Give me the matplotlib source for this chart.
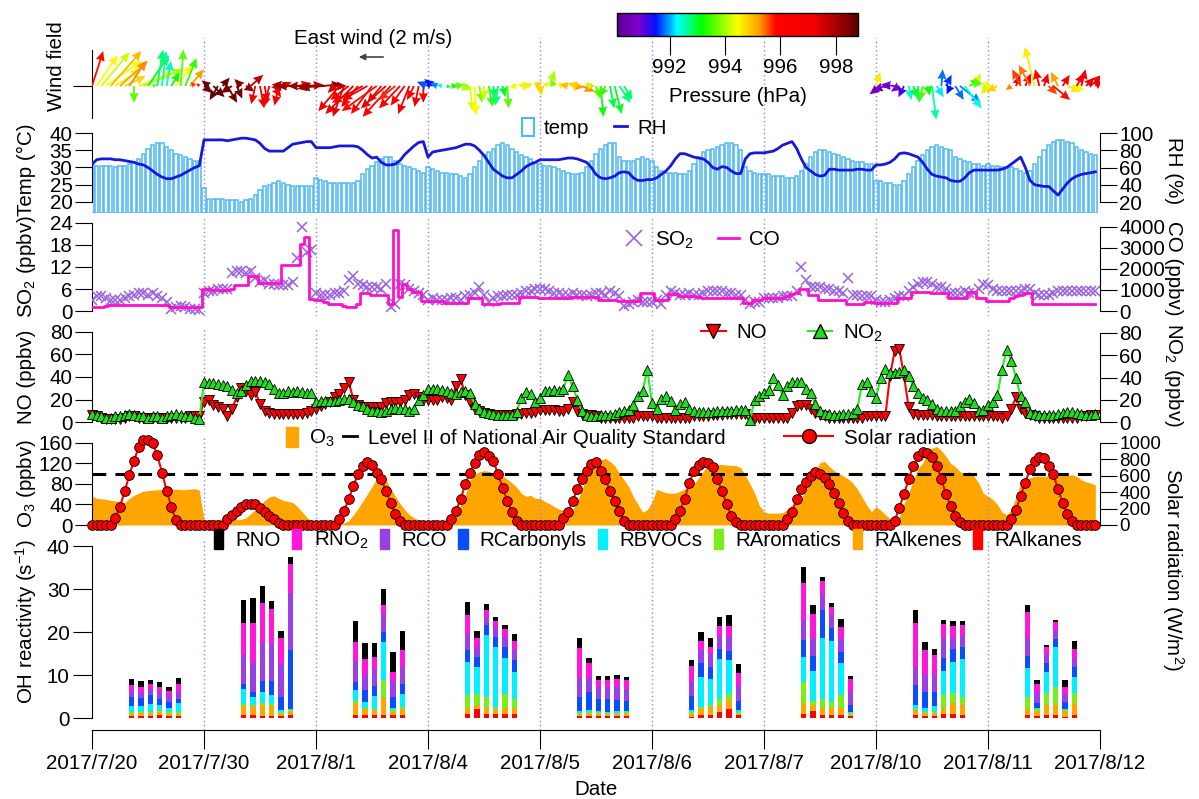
import numpy as np
import matplotlib
matplotlib.use("Agg")
import matplotlib.pyplot as plt
from matplotlib.colors import LinearSegmentedColormap, Normalize
from matplotlib.cm import ScalarMappable
from matplotlib.lines import Line2D
from matplotlib.patches import Patch

plt.rcParams['font.family'] = ['Liberation Sans', 'DejaVu Sans']
plt.rcParams['mathtext.fontset'] = 'custom'
plt.rcParams['mathtext.rm'] = 'Liberation Sans'
plt.rcParams['mathtext.it'] = 'Liberation Sans:italic'

nan = np.nan

# ---------------- data (hourly, one line per day) ----------------
date_labels = ['2017/7/20', '2017/7/30', '2017/8/1', '2017/8/4', '2017/8/5',
               '2017/8/6', '2017/8/7', '2017/8/10', '2017/8/11', '2017/8/12']

temp = [
    31, 30.5, 30.5, 30.5, 30.5, 30, 30.5, 30.5, 31, 31.5, 32.5, 34, 35.5, 36.5, 37, 37, 36, 35, 34, 33.5, 33, 32.5, 32, 32,
    24, 21, 21, 21, 21, 20.5, 20.5, 20.5, 20, 20.5, 21, 22, 23.5, 24.5, 25, 25.5, 26, 25.5, 25, 24.5, 24.5, 24.5, 24.5, 24.5,
    27, 26.5, 26, 25.5, 25.5, 25.5, 25.5, 25.5, 25.5, 26, 28, 29.5, 30.5, 31.5, 32.5, 33, 33, 32, 31, 30.5, 30, 29.5, 29, 28.5,
    30, 29.5, 29, 28.5, 28.5, 28, 28, 27.5, 27, 28, 30, 32, 33.5, 34.5, 35.5, 36.5, 37, 36.5, 35.5, 34.5, 33.5, 33, 32.5, 31.5,
    31, 30.5, 30.5, 30, 29.5, 29, 28.5, 28, 28, 28.5, 30, 32, 34, 35.5, 36.5, 37, 37, 33, 32, 32, 32, 32.5, 33, 32.5,
    32, 30, 29, 28.5, 28.5, 28.5, 28, 28, 29, 31, 33, 34.5, 35, 35.5, 36, 36.5, 37, 37, 36.5, 35, 30, 29, 28.5, 28,
    28, 28, 27.5, 27.5, 27.5, 27, 27, 27.5, 29, 31, 33, 34.5, 35, 35, 34.5, 34, 33.5, 33, 32.5, 32, 31.5, 31.5, 31, 31,
    26, 26, 25.5, 25.5, 25, 25, 26, 28, 30, 32, 33.5, 35, 36, 36.5, 36, 35.5, 35, 33, 32.5, 32, 31.5, 31, 31, 30.5,
    31, 30.5, 30.5, 30, 30, 30, 29.5, 29, 28.5, 29, 31, 33, 35, 36.5, 37.5, 38, 38, 37.5, 37, 36, 35, 34.5, 34, 33.5,
]
rh = [
    64, 69, 70, 70, 70, 69, 69, 68, 67, 66, 64, 63, 60, 56, 52, 49, 47, 47, 49, 51, 54, 57, 60, 62,
    92, 92, 92, 92, 92, 91, 92, 93, 94, 94, 93, 92, 88, 82, 79, 79, 79, 79, 83, 87, 88, 89, 90, 90,
    83, 83, 83, 83, 84, 85, 85, 85, 85, 84, 80, 75, 71, 72, 66, 63, 63, 64, 68, 75, 80, 85, 89, 90,
    72, 78, 79, 80, 81, 82, 83, 85, 87, 87, 85, 80, 74, 66, 58, 54, 50, 48, 48, 52, 56, 61, 64, 66,
    69, 69, 69, 69, 69, 70, 71, 71, 70, 68, 66, 60, 52, 48, 47, 48, 50, 54, 55, 54, 48, 45, 45, 46,
    46, 48, 52, 56, 62, 70, 76, 76, 74, 72, 71, 70, 66, 60, 58, 61, 60, 56, 53, 53, 70, 76, 77, 77,
    77, 78, 79, 82, 86, 88, 90, 82, 70, 60, 56, 52, 50, 51, 58, 58, 57, 57, 57, 57, 58, 58, 57, 57,
    63, 63, 64, 66, 70, 76, 77, 76, 74, 72, 66, 58, 52, 50, 49, 48, 45, 44, 44, 48, 54, 57, 57, 57,
    57, 57, 57, 58, 60, 64, 68, 72, 60, 45, 40, 39, 38, 38, 33, 28, 35, 42, 47, 50, 52, 53, 54, 55,
]
so2 = [
    3, 4, 4, 3.5, 3, 3, 3, 3.5, 4, 4.5, 5, 5, 4.5, 5, 4, 3.5, 2.5, 0.5, 1, 1.5, 1, 0.5, 0.5, 0.3,
    5, 5.5, 5.5, 6, 6, 6, 10.5, 11, 11, 10.5, 11, 9, 8, 8.5, 7.5, 7.5, 7, 7, 7, 8, 14.5, 23, 16, 16.5,
    5, 4.5, 4.5, 4.5, 5, 5, 5.5, 8.5, 9.5, 7.5, 7, 6.5, 6.5, 6.5, 6, 7.5, 1, 2, 7.5, 7, 6, 5.5, 5, 4.5,
    3, 3.5, 3, 3, 3, 3.5, 3.5, 3, 4, 4.5, 5, 6.5, 4.5, 2.5, 3.5, 4, 4, 4.5, 4.5, 4.5, 5, 5.5, 5.5, 6,
    6, 6, 5.5, 5, 5, 4.5, 4.5, 5, 4.5, 4.5, 4, 4.5, 5, 5, 4.5, 5.5, 5, 4, 1.5, 2, 2.5, 3, 2.5, 2.5,
    2.5, 3, 2, 4.5, 5.5, 5, 4.5, 4.5, 5, 4.5, 4.5, 5, 5.5, 5.5, 5.5, 5.5, 5, 5, 4.5, 4.5, 3, 2, 2.5, 2.5,
    3.5, 3.5, 3.5, 3.5, 4, 4, 4, 5.5, 12, 8.5, 6.5, 6.5, 6.5, 6, 6, 5.5, 5.5, 5, 9, 4.5, 4.5, 4, 4, 4,
    3, 2.5, 2.5, 3, 3.5, 4, 4, 5.5, 6.5, 7.5, 8, 8, 7.5, 6.5, 6.5, 6, 5, 5, 5, 5.5, 5, 5, 6, 7.5,
    7, 6, 5.5, 5.5, 5.5, 5.5, 5.5, 5.5, 6, 6, 5, 4.5, 4.5, 4.5, 5, 5.5, 5.5, 5.5, 5.5, 5.5, 5.5, 5.5, 5.5, 5.5,
]
co = [
    170, 180, 200, 250, 270, 270, 270, 270, 280, 280, 280, 280, 280, 280, 280, 280, 270, 200, 200, 180, 180, 180, 180, 180,
    1070, 1070, 1000, 1000, 1000, 1000, 1050, 1250, 1250, 1250, 1650, 1650, 1350, 1350, 1350, 1350, 1350, 2170, 2170, 2170, 2170, 3170, 3500, 550,
    540, 540, 450, 320, 320, 320, 250, 200, 200, 320, 870, 870, 770, 770, 770, 770, 320, 3850, 690, 1280, 1060, 900, 900, 470,
    470, 470, 470, 470, 400, 400, 400, 400, 400, 620, 620, 620, 350, 350, 350, 350, 400, 400, 400, 400, 690, 690, 690, 690,
    620, 620, 620, 620, 620, 620, 620, 690, 690, 690, 690, 690, 690, 540, 540, 540, 540, 470, 470, 470, 470, 470, 850, 850,
    850, 540, 540, 540, 800, 800, 700, 700, 700, 700, 690, 620, 620, 620, 620, 620, 620, 620, 620, 620, 400, 400, 540, 540,
    620, 620, 620, 620, 620, 700, 800, 860, 1040, 1040, 770, 770, 540, 540, 540, 540, 540, 540, 350, 350, 350, 350, 450, 450,
    400, 400, 400, 400, 400, 620, 620, 620, 900, 900, 900, 900, 850, 850, 850, 850, 620, 620, 620, 620, 900, 900, 620, 620,
    470, 470, 470, 470, 470, 620, 700, 770, 860, 860, 350, 350, 350, 350, 350, 350, 350, 350, 350, 350, 350, 350, 350, 350,
]
no = [
    6, 5, 4, 3, 3, 3, 3, 4, 5, 5, 4, 4, 4, 4, 4, 4, 4, 4, 4, 4, 4, 5, 5, 5,
    18, 20, 15, 13, 12, 5, 12, 22, 30, 28, 24, 27, 16, 10, 8, 7, 7, 7, 7, 7, 7, 7, 8, 10,
    12, 14, 16, 18, 22, 25, 30, 36, 20, 15, 13, 13, 13, 13, 13, 17, 18, 18, 18, 20, 24, 25, 22, 20,
    20, 20, 20, 22, 21, 20, 32, 38, 24, 18, 12, 10, 8, 7, 6, 6, 6, 6, 6, 7, 7, 8, 8, 9,
    11, 11, 11, 11, 10, 10, 12, 18, 10, 7, 6, 6, 5, 4, 4, 4, 4, 4, 4, 4, 4, 5, 5, 5,
    5, 4, 4, 4, 4, 4, 4, 4, 4, 5, 5, 5, 5, 6, 6, 6, 7, 7, 7, 7, 7, 3, 4, 4,
    4, 4, 4, 4, 4, 4, 8, 14, 15, 15, 12, 8, 6, 5, 4, 4, 4, 4, 4, 4, 4, 4, 5, 5,
    5, 5, 5, 41, 63, 65, 41, 13, 7, 6, 6, 6, 6, 5, 5, 5, 5, 5, 5, 5, 5, 5, 5, 5,
    5, 5, 5, 4, 5, 12, 22, 12, 8, 6, 5, 4, 4, 4, 4, 4, 4, 4, 4, 4, 5, 5, 6, 6,
]
no2 = [
    7, 6, 5, 4, 4, 5, 5, 6, 7, 6, 5, 5, 4, 5, 5, 4, 5, 6, 7, 6, 5, 5, 4, 3,
    36, 35, 35, 34, 33, 32, 29, 26, 28, 33, 37, 37, 37, 36, 34, 30, 26, 26, 28, 27, 28, 27, 26, 26,
    18, 19, 19, 19, 19, 20, 21, 21, 18, 15, 14, 12, 10, 10, 9, 10, 12, 13, 12, 12, 10, 12, 20, 24,
    30, 30, 30, 29, 28, 26, 25, 27, 28, 26, 16, 12, 9, 8, 7, 6, 6, 6, 6, 9, 22, 27, 25, 18,
    22, 28, 28, 29, 28, 30, 42, 32, 20, 10, 6, 5, 5, 6, 6, 6, 7, 9, 10, 11, 15, 23, 28, 47,
    17, 12, 21, 23, 19, 11, 16, 18, 12, 10, 9, 9, 9, 9, 10, 10, 10, 10, 11, 11, 11, 2, 20, 23,
    26, 29, 40, 33, 24, 32, 36, 36, 36, 30, 26, 16, 10, 7, 7, 6, 6, 7, 7, 8, 12, 34, 36, 28,
    22, 40, 48, 44, 44, 45, 47, 41, 32, 26, 22, 20, 16, 12, 10, 10, 10, 10, 14, 18, 21, 17, 10, 11,
    15, 18, 24, 47, 65, 55, 40, 23, 18, 8, 7, 6, 6, 6, 6, 7, 8, 9, 9, 8, 7, 6, 6, 7,
]
o3 = [
    56, 52, 51, 50, 48, 47, 46, 44, 52, 58, 62, 66, 67, 68, 69, 69, 70, 70, 70, 69, 69, 70, 71, 68,
    10, 10, 10, 10, 10, 11, 11, 11, 11, 14, 22, 30, 39, 48, 55, 57, 52, 48, 46, 44, 36, 26, 15, 8,
    3, 3, 3, 3, 3, 3, 4, 8, 20, 32, 46, 60, 75, 90, 92, 88, 72, 56, 42, 30, 20, 14, 10, 6,
    3, 3, 3, 3, 3, 5, 16, 40, 60, 88, 98, 104, 106, 105, 101, 99, 96, 89, 82, 74, 62, 56, 58, 52,
    52, 46, 42, 36, 31, 29, 29, 30, 45, 70, 92, 114, 125, 127, 130, 124, 116, 101, 88, 75, 55, 40, 25, 30,
    45, 70, 66, 63, 62, 62, 66, 70, 72, 80, 92, 105, 116, 118, 118, 118, 117, 116, 116, 112, 96, 80, 62, 38,
    26, 23, 23, 23, 24, 30, 39, 46, 52, 70, 88, 105, 122, 124, 114, 106, 101, 96, 90, 82, 70, 55, 39, 26,
    36, 29, 20, 13, 7, 16, 42, 62, 88, 110, 121, 141, 150, 153, 145, 134, 120, 114, 104, 101, 104, 95, 82, 62,
    56, 50, 40, 25, 20, 30, 55, 82, 89, 92, 95, 95, 95, 96, 96, 96, 97, 97, 98, 95, 88, 84, 82, 78,
]
solar = [
    0, 0, 0, 0, 0, 80, 225, 410, 610, 785, 945, 1040, 1040, 1000, 850, 640, 420, 220, 60, 0, 0, 0, 0, 0,
    0, 0, 0, 0, 0, 70, 118, 171, 224, 253, 261, 253, 212, 159, 110, 69, 29, 0, 0, 0, 0, 0, 0, 0,
    0, 0, 0, 0, 0, 70, 171, 314, 477, 620, 722, 763, 730, 640, 559, 416, 273, 130, 49, 0, 0, 0, 0, 0,
    0, 0, 0, 0, 0, 70, 171, 314, 500, 640, 755, 850, 885, 845, 783, 620, 457, 294, 159, 49, 0, 0, 0, 0,
    0, 0, 0, 0, 0, 82, 159, 294, 437, 559, 661, 742, 771, 661, 559, 416, 294, 171, 49, 0, 0, 0, 0, 0,
    0, 0, 0, 0, 0, 78, 171, 314, 518, 661, 735, 763, 755, 702, 559, 416, 253, 110, 37, 0, 0, 0, 0, 0,
    0, 0, 0, 0, 0, 70, 159, 314, 437, 530, 600, 641, 620, 567, 498, 396, 273, 151, 49, 0, 0, 0, 0, 0,
    0, 0, 0, 0, 49, 212, 375, 559, 722, 836, 885, 877, 824, 722, 559, 375, 232, 110, 37, 0, 0, 0, 0, 0,
    0, 0, 0, 0, 0, 70, 184, 355, 518, 681, 783, 824, 812, 722, 620, 437, 273, 130, 49, 0, 0, 0, 0, 0,
]

# wind components (m/s) and pressure (hPa); nan = no data
wind_u = [
    0.8, 1.5, 2.0, 2.5, 2.2, 1.8, 2.0, 1.5, 1.2, 0.0, 2.5, 2.8, 1.5, 0.3, 0.4, 0.3, 0.3, 0.6, 1.2, 0.2, 0.8, 1.0, -0.3, -0.2,
    0.6, -0.5, 0.8, -0.6, 0.5, 0.7, -0.8, 0.4, -0.5, 0.6, 0.9, -0.3, 0.3, 0.2, -0.4, 0.5, -0.3, 0.6, -1.2, -1.5, 1.0, -1.8, 1.2, -1.0,
    -2.0, 1.5, -1.8, 1.2, -0.5, -1.5, -0.8, -1.3, -2.0, -1.2, -2.2, -1.8, -1.5, -2.5, -1.0, -1.8, -2.0, -1.2, -1.5, -1.0, -0.8, -0.5, -0.3, 0.0,
    -0.8, -0.6, -0.5, -0.4, 0.3, 0.5, 0.6, 0.8, 0.4, 0.2, 0.1, 0.2, 0.0, 0.3, 0.1, -0.2, 0.2, 0.1, 0.3, -0.5, 0.8, -0.6, -0.4, 0.5,
    0.1, 0.3, 0.4, -0.2, 0.5, 0.3, -0.6, 0.8, -0.7, 0.9, 0.6, -0.5, 0.3, 0.2, -0.4, 0.3, 0.5, 0.8, 0.6, nan, nan, nan, nan, nan,
    nan, nan, nan, nan, nan, nan, nan, nan, nan, nan, nan, nan, nan, nan, nan, nan, nan, nan, nan, nan, nan, nan, nan, nan,
    nan, nan, nan, nan, nan, nan, nan, nan, nan, nan, nan, nan, nan, nan, nan, nan, nan, nan, nan, nan, nan, nan, nan, nan,
    0.3, -0.8, -0.9, -0.5, -1.0, -0.6, -0.4, 0.2, 0.3, 0.1, -0.2, 0.2, 0.3, 0.5, 0.1, 0.4, -0.3, 0.6, 1.5, 1.2, 0.8, 0.5, -0.3, 0.4,
    -0.5, -0.6, -0.8, nan, nan, -0.4, 0.3, -0.6, 0.4, -0.8, -0.7, -0.3, 0.3, 0.6, 1.2, -0.5, 0.5, 1.0, 0.9, 0.5, 0.3, 0.6, 0.8, 0.5,
]
wind_v = [
    2.5, 2.2, 2.4, 1.8, 2.5, 1.2, 1.8, 0.7, 1.8, -1.2, 1.0, 1.2, 2.2, 0.1, 2.6, 2.5, 1.8, 1.0, 1.5, 2.6, 2.0, 1.2, 0.3, 0.2,
    -0.5, 0.4, -0.8, -1.0, 0.6, -1.2, -0.5, -0.9, 0.5, -0.4, 0.8, -1.3, -1.6, -1.2, -1.5, -0.8, -1.4, 0.3, -0.1, 0.1, 0.2, 0.0, 0.1, -0.2,
    0.0, 0.1, -0.1, 0.0, -0.5, -1.8, -2.2, -1.0, -2.0, -1.5, -1.2, -1.0, -2.0, -1.8, -1.2, -1.6, -2.2, -1.0, -1.6, -1.4, -2.0, -1.0, -1.5, -1.2,
    0.3, 0.5, 0.2, 0.1, -0.1, 0.0, 0.1, -0.2, -0.3, -1.8, -2.1, -1.2, -1.0, -1.5, -0.9, -1.4, -0.8, -1.6, -0.2, 0.0, 0.1, 0.1, 0.2, 0.3,
    -0.7, 0.3, 1.1, 0.5, 0.2, 0.2, 0.1, -0.1, 0.2, -0.4, 0.0, 0.1, -0.9, -2.2, -0.8, -1.6, -2.0, -1.2, -1.0, nan, nan, nan, nan, nan,
    nan, nan, nan, nan, nan, nan, nan, nan, nan, nan, nan, nan, nan, nan, nan, nan, nan, nan, nan, nan, nan, nan, nan, nan,
    nan, nan, nan, nan, nan, nan, nan, nan, nan, nan, nan, nan, nan, nan, nan, nan, nan, nan, nan, nan, nan, nan, nan, nan,
    1.0, -0.6, -0.3, -0.1, 0.1, -0.4, -0.8, -1.0, -0.9, -1.2, -1.1, -0.7, -2.4, -0.8, 1.2, 0.8, -0.6, -1.0, -1.2, -1.6, 0.5, 0.9, 0.6, 0.4,
    -0.6, -0.5, -0.4, nan, nan, -0.3, 0.8, 1.2, 0.9, 1.5, 2.8, 1.2, 0.9, -0.6, -1.0, 1.0, 0.8, -0.4, -0.3, 0.9, 1.2, 0.6, 0.8, 0.4,
]
pressure = [
    995.8, 994.5, 994.2, 994.5, 995.0, 994.3, 995.2, 994.8, 995.3, 993.6, 994.6, 994.0, 993.0, 993.5, 992.8, 992.6, 992.5, 993.2, 994.4, 993.6, 993.4, 995.2, 995.6, 996.0,
    998.6, 998.7, 998.8, 998.8, 998.7, 998.6, 998.5, 998.6, 998.4, 998.3, 997.8, 997.2, 997.0, 996.9, 997.1, 997.0, 996.8, 996.2, 997.6, 998.0, 997.3, 998.2, 997.8, 998.0,
    998.3, 998.4, 998.3, 998.0, 997.5, 997.0, 997.3, 996.8, 997.2, 996.6, 996.9, 996.4, 996.0, 995.8, 996.5, 997.0, 996.3, 995.7, 996.2, 996.9, 996.5, 996.2, 997.0, 996.5,
    991.7, 991.5, 991.9, 992.3, 993.0, 993.3, 993.6, 994.0, 994.0, 994.3, 994.5, 993.8, 994.2, 993.4, 992.8, 992.7, 993.0, 993.6, 994.2, 994.4, 994.6, 994.3, 994.6, 994.8,
    994.8, 994.3, 994.0, 993.8, 994.5, 994.4, 995.0, 995.2, 994.8, 995.3, 995.0, 994.2, 993.6, 993.2, 993.4, 992.9, 993.0, 992.7, 992.8, nan, nan, nan, nan, nan,
    nan, nan, nan, nan, nan, nan, nan, nan, nan, nan, nan, nan, nan, nan, nan, nan, nan, nan, nan, nan, nan, nan, nan, nan,
    nan, nan, nan, nan, nan, nan, nan, nan, nan, nan, nan, nan, nan, nan, nan, nan, nan, nan, nan, nan, nan, nan, nan, nan,
    994.6, 990.6, 990.7, 990.8, 991.0, 990.9, 991.2, 992.5, 993.0, 992.8, 993.5, 993.2, 992.6, 992.2, 991.8, 991.6, 991.5, 991.8, 991.9, 992.4, 993.4, 994.2, 993.6, 994.4,
    994.2, 994.5, 994.8, nan, nan, 995.3, 996.0, 995.6, 996.2, 995.4, 994.6, 996.3, 996.5, 995.6, 995.8, 995.2, 996.0, 994.7, 994.5, 996.4, 996.8, 997.2, 996.5, 997.0,
]

# OH reactivity (s-1): six samples per day
oh_hours = [8.5, 10.5, 12.5, 14.5, 16.5, 18.5]
oh_labels = ['RNO', 'RNO$_2$', 'RCO', 'RCarbonyls', 'RBVOCs', 'RAromatics', 'RAlkenes', 'RAlkanes']
r_alkanes = [0.5, 0.5, 0.5, 0.6, 0.4, 0.5,  0.6, 0.6, 0.5, 0.5, 0.5, 0.6,  0.6, 0.6, 0.6, 0.6, 0.6, 0.6,
             1.0, 2.0, 1.0, 1.0, 1.0, 1.0,  0.4, 0.4, 0.4, 0.4, 0.4, 0.4,  0.3, 0.8, 0.8, 1.4, 2.2, 0.6,
             1.0, 1.6, 0.6, 0.6, 0.6, 0.4,  0.8, 0.5, 0.5, 1.0, 1.0, 0.6,  0.8, 0.4, 0.8, 0.8, 0.3, 0.8]
r_alkenes = [0.5, 0.6, 0.7, 0.9, 0.6, 0.5,  2.2, 2.2, 2.5, 2.3, 0.5, 0.8,  3.0, 1.4, 1.2, 4.1, 0.9, 1.6,
             1.3, 1.0, 1.3, 1.2, 1.3, 1.3,  0.4, 0.5, 0.5, 0.4, 0.5, 0.5,  0.7, 1.4, 1.8, 1.6, 1.9, 0.4,
             2.6, 1.4, 1.7, 1.7, 1.7, 0.4,  1.0, 0.6, 0.6, 1.3, 2.6, 2.4,  1.4, 1.3, 2.2, 2.2, 1.3, 2.8]
r_aromatics = [0.3, 0.3, 0.3, 0.3, 0.3, 0.3,  0.4, 0.3, 0.4, 0.4, 0.4, 0.4,  0.3, 0.3, 0.4, 4.1, 0.3, 0.4,
               3.0, 2.5, 2.6, 0.4, 3.2, 2.2,  0.4, 0.4, 0.4, 0.3, 0.3, 0.4,  0.4, 0.4, 0.4, 1.4, 1.4, 0.4,
               4.7, 0.9, 2.2, 1.4, 3.0, 0.3,  0.4, 0.3, 0.4, 3.0, 2.2, 1.9,  2.7, 0.3, 2.8, 4.1, 0.2, 2.2]
r_bvocs = [1.4, 1.5, 1.7, 1.2, 1.1, 2.2,  3.6, 1.8, 2.7, 2.1, 0.4, 0.4,  2.6, 1.4, 2.9, 8.8, 0.5, 2.9,
           7.8, 6.4, 14.4, 14.0, 8.4, 6.3,  0.4, 0.5, 0.4, 0.3, 0.4, 0.3,  0.4, 7.0, 6.0, 9.3, 8.0, 0.4,
           5.8, 7.0, 14.1, 14.2, 7.6, 0.3,  0.9, 1.0, 1.2, 5.6, 7.3, 8.8,  6.8, 0.3, 5.0, 9.3, 0.4, 3.8]
r_carbonyls = [2.1, 1.7, 2.1, 1.5, 1.3, 1.0,  1.1, 1.2, 2.5, 3.3, 3.1, 13.7,  1.9, 2.8, 2.4, 2.5, 2.6, 2.5,
               2.7, 2.4, 2.4, 2.3, 2.7, 2.7,  3.3, 4.3, 2.8, 3.1, 2.5, 2.4,  3.3, 3.3, 2.9, 2.4, 2.1, 2.2,
               4.1, 3.6, 6.6, 3.0, 2.5, 1.7,  4.5, 3.7, 3.3, 3.0, 3.0, 2.7,  2.8, 1.2, 2.1, 2.0, 1.5, 2.2]
r_co = [1.4, 1.5, 1.4, 1.5, 1.6, 1.6,  6.8, 6.8, 8.8, 8.6, 7.6, 13.1,  4.9, 3.6, 4.0, 4.1, 3.7, 3.9,
        3.5, 2.1, 1.9, 2.3, 2.3, 2.3,  4.5, 3.1, 2.8, 2.8, 3.2, 2.7,  3.5, 2.9, 2.9, 2.8, 3.3, 3.4,
        4.5, 4.1, 3.5, 3.0, 3.0, 3.0,  4.3, 3.8, 4.1, 4.7, 2.6, 2.6,  4.1, 2.3, 1.8, 2.1, 1.8, 2.1]
r_no2 = [1.5, 1.2, 1.2, 1.2, 0.9, 1.9,  7.4, 9.3, 9.3, 8.2, 6.2, 6.8,  4.3, 3.6, 2.8, 2.0, 2.2, 3.9,
         4.6, 2.2, 1.6, 1.4, 1.8, 2.1,  6.8, 3.7, 1.6, 1.5, 1.7, 2.1,  3.5, 2.1, 1.8, 2.5, 2.5, 3.1,
         8.6, 5.6, 3.1, 1.9, 2.7, 2.9,  10.3, 6.0, 4.6, 3.2, 2.8, 2.7,  6.0, 2.2, 1.7, 1.8, 1.8, 2.2]
r_no = [1.3, 1.3, 0.9, 1.1, 1.0, 1.2,  5.3, 5.6, 3.9, 1.9, 1.6, 1.7,  4.9, 3.7, 3.1, 3.8, 4.5, 4.5,
        3.1, 1.7, 1.3, 0.9, 1.0, 1.6,  2.5, 1.0, 0.9, 1.0, 1.1, 0.8,  1.5, 2.0, 2.0, 2.2, 2.5, 2.0,
        3.8, 2.0, 0.9, 0.9, 1.9, 0.8,  3.0, 1.7, 1.4, 0.9, 1.0, 0.8,  1.6, 0.8, 0.6, 0.5, 1.5, 1.8]

# ---------------- figure ----------------
W, H = 1199, 799
fig = plt.figure(figsize=(W / 100, H / 100), dpi=100)
FS = 14.8

temp_c = '#4fb9f3'
rh_c = '#1818d8'
so2_c = '#9a62dc'
co_c = '#ff10cc'
no_c = '#ff0000'
no2_c = '#22ee22'
o3_c = '#ffa500'
day_c = '#8585ff'
oh_colors = ['#000000', '#ff18d8', '#9a3ee6', '#0a4cff', '#00f0ff', '#7cec1c', '#ffa500', '#ff0000']

n_days = len(date_labels) - 1
xmax = 24 * n_days
hours = np.arange(xmax)


def add_panel(top, bottom):
    ax = fig.add_axes([92 / W, 1 - bottom / H, 1008 / W, (bottom - top) / H])
    ax.set_xlim(0, xmax)
    ax.patch.set_visible(False)
    return ax


def style_left(ax, lo, hi, ticks):
    for s in ['top', 'right', 'bottom']:
        ax.spines[s].set_visible(False)
    ax.spines['left'].set_bounds(lo, hi)
    ax.set_yticks(ticks)
    ax.tick_params(axis='x', bottom=False, labelbottom=False)
    ax.tick_params(axis='y', direction='out', length=12, labelsize=FS, pad=2)


def style_right(ax, lo, hi, ticks, size=FS):
    for s in ['top', 'left', 'bottom']:
        ax.spines[s].set_visible(False)
    ax.spines['right'].set_bounds(lo, hi)
    ax.set_yticks(ticks)
    ax.tick_params(axis='y', direction='out', length=12, labelsize=size, pad=2)


def day_lines(ax):
    for d in range(1, n_days):
        ax.axvline(24 * d, color=day_c, ls=(0, (1, 2)), lw=1, zorder=2.5)


# pressure colour scale
cmap = LinearSegmentedColormap.from_list('press', [
    (0.0, '#5c0090'), (0.09, '#8000d0'), (0.16, '#0010ff'), (0.25, '#00ffff'),
    (0.35, '#00ff00'), (0.5, '#ffff00'), (0.59, '#ffa000'), (0.66, '#ff0000'),
    (0.82, '#f00000'), (1.0, '#600000')])
norm = Normalize(990.1, 998.8)

# ---- wind field ----
ax_w = add_panel(38, 126)
ax_w.set_ylim(-40, 48)
for s in ['top', 'right', 'bottom']:
    ax_w.spines[s].set_visible(False)
ax_w.spines['left'].set_bounds(-32, 36)
ax_w.set_yticks([0])
ax_w.set_yticklabels([''])
ax_w.tick_params(axis='y', direction='out', length=14)
ax_w.tick_params(axis='x', bottom=False, labelbottom=False)
day_lines(ax_w)
u = np.array(wind_u)
v = np.array(wind_v)
p = np.array(pressure)
ok = ~np.isnan(u)
ax_w.quiver(hours[ok], np.zeros(ok.sum()), u[ok], v[ok], p[ok], cmap=cmap, norm=norm,
            angles='uv', scale_units='dots', scale=1 / 14, width=0.0018,
            headwidth=5, headlength=5.5, headaxislength=5, zorder=3)
fig.text(57 / W, 1 - 66 / H, 'Wind field', rotation=90, ha='center', va='center', fontsize=FS)
fig.text(373 / W, 1 - 38 / H, 'East wind (2 m/s)', ha='center', va='center', fontsize=FS)
ax_w.annotate('', xy=(356, H - 57), xytext=(386, H - 57), xycoords='figure pixels',
              textcoords='figure pixels',
              arrowprops=dict(arrowstyle='-|>', color='#444444', lw=1.2, mutation_scale=9))

cax = fig.add_axes([617 / W, 1 - 36 / H, 241 / W, 23 / H])
cb = fig.colorbar(ScalarMappable(norm=norm, cmap=cmap), cax=cax, orientation='horizontal',
                  ticks=[992, 994, 996, 998])
cb.ax.tick_params(direction='out', length=14, labelsize=FS, pad=2)
cb.set_label('Pressure (hPa)', fontsize=FS, labelpad=7)
cb.outline.set_linewidth(1)

# ---- temperature / RH ----
ax_t = add_panel(128, 213)
t_lo, t_hi = 16.81, 41.45
ax_t.bar(hours, np.array(temp) - t_lo, bottom=t_lo, width=0.72, facecolor='white',
         edgecolor=temp_c, lw=1.1, zorder=1)
ax_t.set_ylim(t_lo, t_hi)
style_left(ax_t, 20, 40, [20, 25, 30, 35, 40])
day_lines(ax_t)
ax_rh = ax_t.twinx()
ax_rh.set_xlim(0, xmax)
ax_rh.plot(hours, rh, color=rh_c, lw=2)
ax_rh.set_ylim(7.25, 105.8)
style_right(ax_rh, 20, 100, [20, 40, 60, 80, 100])

# ---- SO2 / CO ----
ax_s = add_panel(218, 316)
ax_s.plot(hours, so2, ls='none', marker='x', color=so2_c, ms=7, mew=1.1, zorder=3)
ax_s.set_ylim(-1.36, 25.36)
style_left(ax_s, 0, 24, [0, 6, 12, 18, 24])
day_lines(ax_s)
ax_co = ax_s.twinx()
ax_co.set_xlim(0, xmax)
ax_co.step(hours, co, where='mid', color=co_c, lw=2)
ax_co.set_ylim(-238, 4428)
style_right(ax_co, 0, 4000, [0, 1000, 2000, 3000, 4000])

# ---- NO / NO2 ----
ax_n = add_panel(327, 427)
ax_n.plot(hours, no, color=no_c, lw=1.5, marker='v', mfc=no_c, mec='black', mew=0.6, ms=6.5,
          clip_on=False, zorder=3)
ax_n.set_ylim(-4.44, 84.44)
style_left(ax_n, 0, 80, [0, 20, 40, 60, 80])
day_lines(ax_n)
ax_n2 = ax_n.twinx()
ax_n2.set_xlim(0, xmax)
ax_n2.plot(hours, no2, color=no2_c, lw=1.5, marker='^', mfc='#20dd20', mec='black', mew=0.6,
           ms=6.5, clip_on=False)
ax_n2.set_ylim(-4.49, 85.39)
style_right(ax_n2, 0, 80, [0, 20, 40, 60, 80])

# ---- O3 / solar radiation ----
ax_o = add_panel(437, 527)
ax_o.fill_between(hours, 0, o3, color=o3_c, lw=0, zorder=1)
ax_o.axhline(100, color='black', ls=(0, (4.5, 3)), lw=2.2, zorder=2)
ax_o.set_ylim(-3.9, 171.7)
style_left(ax_o, 0, 160, [0, 40, 80, 120, 160])
day_lines(ax_o)
ax_sr = ax_o.twinx()
ax_sr.set_xlim(0, xmax)
ax_sr.plot(hours, solar, color='red', lw=1.5, marker='o', mfc='red', mec='black', mew=0.6,
           ms=7, clip_on=False)
ax_sr.set_ylim(-24.4, 1073)
style_right(ax_sr, 0, 1000, [0, 200, 400, 600, 800, 1000], size=13.5)

# ---- OH reactivity ----
ax_oh = add_panel(540, 730)
oh_x = np.array([24 * d + h for d in range(n_days) for h in oh_hours])
stack = [r_alkanes, r_alkenes, r_aromatics, r_bvocs, r_carbonyls, r_co, r_no2, r_no]
bottom = np.zeros(len(oh_x))
for vals, col in zip(stack, oh_colors[::-1]):
    ax_oh.bar(oh_x, vals, bottom=bottom, width=1.2, color=col, lw=0, zorder=1)
    bottom += np.array(vals)
ax_oh.set_ylim(-2.79, 41.4)
for s in ['top', 'right']:
    ax_oh.spines[s].set_visible(False)
ax_oh.spines['left'].set_bounds(0, 40)
ax_oh.set_yticks([0, 10, 20, 30, 40])
ax_oh.tick_params(axis='y', direction='out', length=14, labelsize=FS, pad=2)
ax_oh.set_xticks(np.arange(0, xmax + 1, 24))
ax_oh.set_xticklabels(date_labels)
ax_oh.tick_params(axis='x', direction='out', length=14, labelsize=FS, pad=3)
ax_oh.set_xlabel('Date', fontsize=FS, labelpad=5)
day_lines(ax_oh)

# ---- axis titles ----
left_titles = [('Temp (°C)', 170), ('SO$_2$ (ppbv)', 267), ('NO (ppbv)', 377),
               ('O$_3$ (ppbv)', 483), ('OH reactivity (s$^{-1}$)', 622)]
for txt, y in left_titles:
    fig.text(26 / W, 1 - y / H, txt, rotation=90, ha='center', va='center', fontsize=FS)
right_titles = [('RH (%)', 171), ('CO (ppbv)', 268), ('NO$_2$ (ppbv)', 375),
                ('Solar radiation (W/m$^2$)', 570)]
for txt, y in right_titles:
    fig.text(1173 / W, 1 - y / H, txt, rotation=270, ha='center', va='center', fontsize=FS)

# ---- legends ----
leg_kw = dict(frameon=False, fontsize=FS, borderpad=0, borderaxespad=0)
fig.legend([Patch(facecolor='white', edgecolor=temp_c, lw=1.5), Line2D([], [], color=rh_c, lw=2)],
           ['temp', 'RH'], loc='center', bbox_to_anchor=(594 / W, 1 - 128 / H), ncol=2,
           handlelength=0.6, handleheight=1.0, handletextpad=0.5, columnspacing=1.2, **leg_kw)
fig.legend([Line2D([], [], ls='none', marker='x', color=so2_c, ms=11, mew=1.2),
            Line2D([], [], color=co_c, lw=2)],
           ['SO$_2$', 'CO'], loc='center', bbox_to_anchor=(702 / W, 1 - 240 / H), ncol=2,
           handlelength=1.0, handletextpad=0.5, columnspacing=1.2, **leg_kw)
fig.legend([Line2D([], [], color=no_c, lw=1.5, marker='v', mfc=no_c, mec='black', ms=10),
            Line2D([], [], color=no2_c, lw=1.5, marker='^', mfc='#20dd20', mec='black', ms=10)],
           ['NO', 'NO$_2$'], loc='center', bbox_to_anchor=(792 / W, 1 - 333 / H), ncol=2,
           handlelength=1.2, handletextpad=0.5, columnspacing=2.0, **leg_kw)
fig.legend([Patch(color=o3_c)], ['O$_3$'], loc='center left',
           bbox_to_anchor=(286 / W, 1 - 438 / H), handlelength=0.6, handleheight=1.1,
           handletextpad=0.5, **leg_kw)
fig.legend([Line2D([], [], color='black', lw=2)], ['Level II of National Air Quality Standard'],
           loc='center left', bbox_to_anchor=(343 / W, 1 - 438 / H), handlelength=0.7,
           handletextpad=0.5, **leg_kw)
fig.legend([Line2D([], [], color='red', lw=1.5, marker='o', mfc='red', mec='black', ms=10)],
           ['Solar radiation'], loc='center left', bbox_to_anchor=(784 / W, 1 - 438 / H),
           handlelength=2.4, handletextpad=0.5, **leg_kw)
fig.legend([Patch(color=c) for c in oh_colors], oh_labels, loc='center',
           bbox_to_anchor=(648 / W, 1 - 540 / H), ncol=8, handlelength=0.45, handleheight=1.1,
           handletextpad=0.6, columnspacing=0.55, **leg_kw)

fig.savefig('out.png', dpi=100)
